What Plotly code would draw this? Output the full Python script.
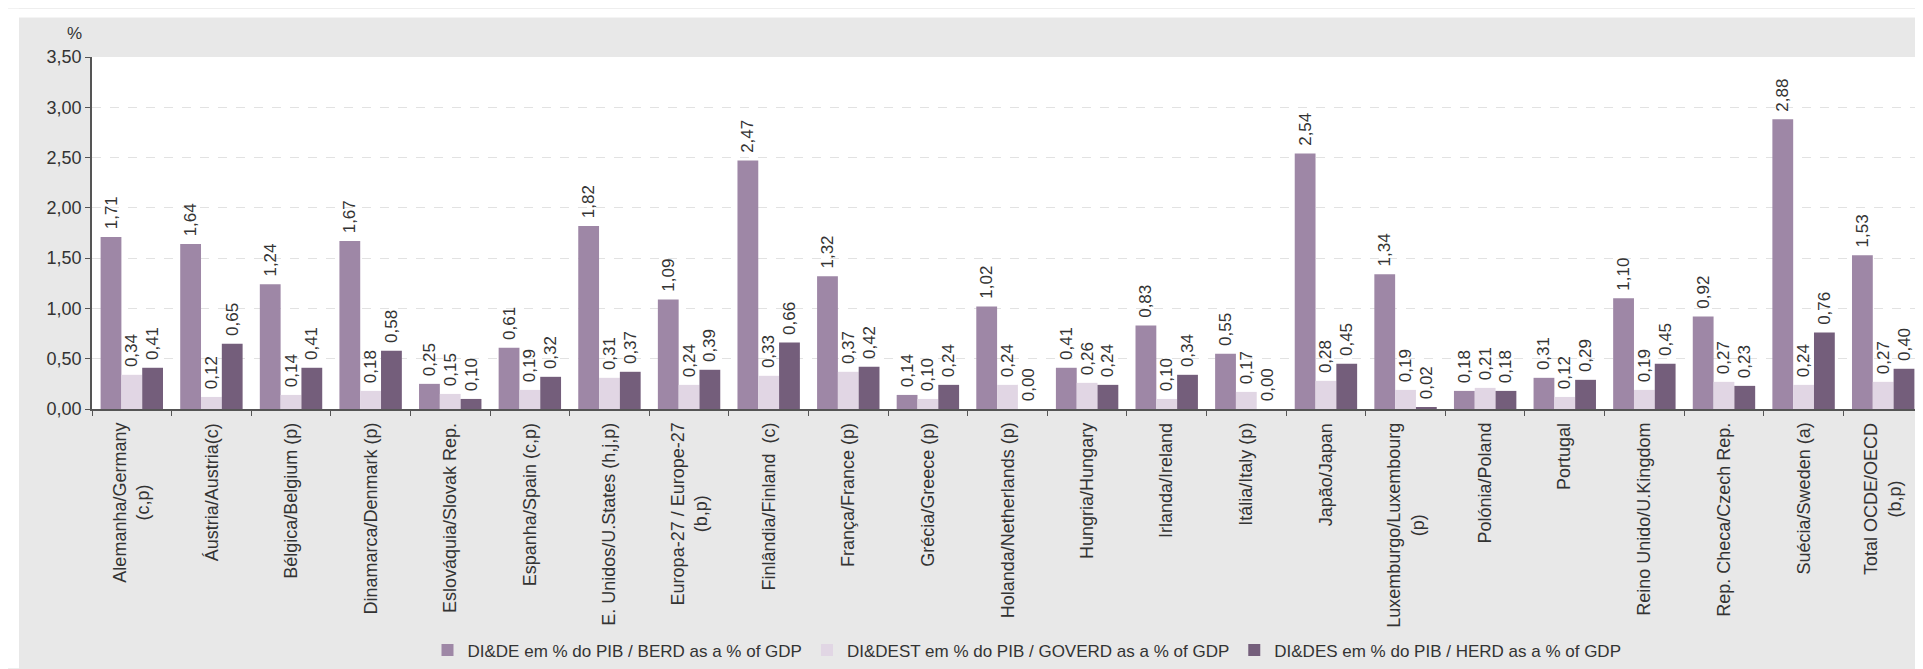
import plotly.graph_objects as go

categories = [
    "Alemanha/Germany<br>(c,p)", "Áustria/Austria(c)", "Bélgica/Belgium (p)", "Dinamarca/Denmark (p)",
    "Eslováquia/Slovak Rep.", "Espanha/Spain (c,p)", "E. Unidos/U.States (h,j,p)",
    "Europa-27 / Europe-27<br>(b,p)", "Finlândia/Finland  (c)", "França/France (p)", "Grécia/Greece (p)",
    "Holanda/Netherlands (p)", "Hungria/Hungary", "Irlanda/Ireland", "Itália/Italy (p)", "Japão/Japan",
    "Luxemburgo/Luxembourg<br>(p)", "Polónia/Poland", "Portugal", "Reino Unido/U.Kingdom",
    "Rep. Checa/Czech Rep.", "Suécia/Sweden (a)", "Total OCDE/OECD<br>(b,p)",
]
berd = [1.71, 1.64, 1.24, 1.67, 0.25, 0.61, 1.82, 1.09, 2.47, 1.32, 0.14, 1.02, 0.41, 0.83, 0.55,
        2.54, 1.34, 0.18, 0.31, 1.10, 0.92, 2.88, 1.53]
goverd = [0.34, 0.12, 0.14, 0.18, 0.15, 0.19, 0.31, 0.24, 0.33, 0.37, 0.10, 0.24, 0.26, 0.10, 0.17,
          0.28, 0.19, 0.21, 0.12, 0.19, 0.27, 0.24, 0.27]
herd = [0.41, 0.65, 0.41, 0.58, 0.10, 0.32, 0.37, 0.39, 0.66, 0.42, 0.24, 0.00, 0.24, 0.34, 0.00,
        0.45, 0.02, 0.18, 0.29, 0.45, 0.23, 0.76, 0.40]
series_names = [
    "DI&DE em % do PIB / BERD as a % of GDP",
    "DI&DEST em % do PIB / GOVERD as a % of GDP",
    "DI&DES em % do PIB / HERD as a % of GDP",
]
y_ticks = [0, 0.5, 1.0, 1.5, 2.0, 2.5, 3.0, 3.5]

colors = ["#9e87a6", "#e1d6e4", "#745e7b"]

W, H = 1923, 669
L, R, T, B = 84, 8, 49, 263
PW, PH = W - L - R, H - T - B


def px(xp):
    return (xp - L) / PW


def py(yp):
    return (H - B - yp) / PH


FONT = "Liberation Sans, Arial, sans-serif"
TXT = "#333333"

fig = go.Figure()
for name, vals, col in zip(series_names, [berd, goverd, herd], colors):
    fig.add_trace(go.Bar(
        x=categories, y=vals, name=name, marker=dict(color=col, line=dict(width=0)),
        texttemplate="\u00a0%{y:.2f}", textposition="outside", textangle=-90,
        textfont=dict(family=FONT, size=17, color=TXT),
        constraintext="none", cliponaxis=False,
    ))

annotations = []
for c in categories:
    annotations.append(dict(
        x=c, xref="x", y=py(418), yref="paper", text=c, showarrow=False,
        textangle=-90, xanchor="center", yanchor="top", align="center",
        font=dict(family=FONT, size=18, color=TXT),
    ))
annotations.append(dict(
    x=px(66), y=py(25), xref="paper", yref="paper", text="%", showarrow=False,
    xanchor="center", yanchor="middle", font=dict(family=FONT, size=17, color=TXT),
))

shapes = [
    dict(type="rect", xref="paper", yref="paper", x0=px(0), x1=px(W), y0=py(9), y1=py(0),
         fillcolor="white", line=dict(width=0), layer="below"),
    dict(type="rect", xref="paper", yref="paper", x0=px(0), x1=px(11), y0=py(H), y1=py(0),
         fillcolor="white", line=dict(width=0), layer="below"),
]

fig.update_layout(
    width=W, height=H,
    margin=dict(l=L, r=R, t=T, b=B, pad=0),
    paper_bgcolor="#e8e8e8", plot_bgcolor="white",
    separators=",.",
    barmode="group", bargap=0.216, bargroupgap=0,
    font=dict(family=FONT, size=17, color=TXT),
    showlegend=True,
    legend=dict(orientation="h", x=px(1019), xanchor="center", y=py(651), yanchor="middle",
                font=dict(family=FONT, size=17, color=TXT), bgcolor="rgba(0,0,0,0)",
                traceorder="normal", itemwidth=30),
    annotations=annotations,
    shapes=shapes,
    xaxis=dict(type="category", range=[-0.5, len(categories) - 0.5], showticklabels=False,
               showline=True, linecolor="#555555", linewidth=1.5, ticks="outside",
               tickson="boundaries", ticklen=5, tickcolor="#555555", showgrid=False),
    yaxis=dict(range=[0, 3.5], tickvals=y_ticks, tickformat=".2f", showline=True,
               linecolor="#555555", linewidth=1.5, ticks="outside", ticklen=5, tickcolor="#555555",
               tickfont=dict(family=FONT, size=18, color=TXT),
               showgrid=True, gridcolor="#e2e2e2", griddash="dash", gridwidth=1, zeroline=False),
)

fig.write_html("out.html")
